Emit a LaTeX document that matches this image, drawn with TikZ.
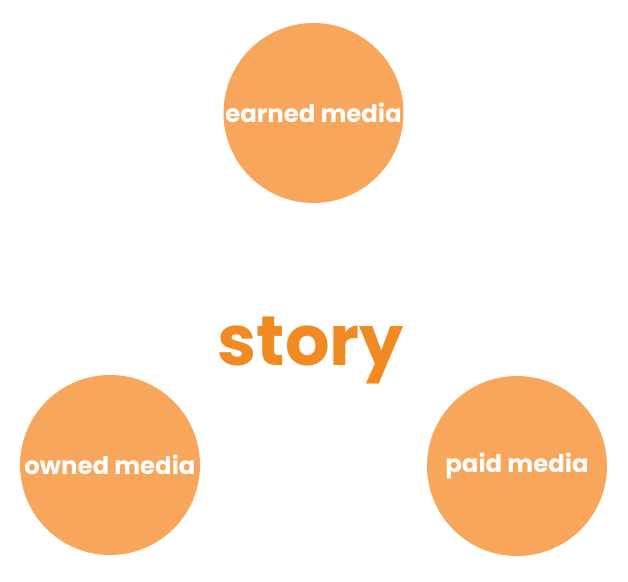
\documentclass[tikz,border=0pt]{standalone}
\usepackage{fontspec}
\setmainfont{Poppins}
\usetikzlibrary{positioning}
\definecolor{softorange}{rgb}{0.97, 0.65, 0.36}
\definecolor{storyorange}{rgb}{0.95, 0.54, 0.14}
\tikzset{
  medium/.style={circle, fill=softorange, minimum size=180pt, inner sep=0pt,
    text=white, font=\fontsize{24.4}{24}\bfseries\selectfont},
}
\begin{document}
\begin{tikzpicture}[x=1pt,y=-1pt]
      \useasboundingbox (0,0) rectangle (628,581);
      \coordinate (O) at (311,365);

      \node [anchor=base, text=storyorange, font=\fontsize{70}{70}\bfseries\selectfont] (story) at (O) {story};
      \foreach \name/\pos/\label in
      {
        earned/{(313.5,113)}/earned media,
        owned/{(110,465)}/owned media,
        paid/{(517,466)}/paid media
      }
      {
       \node [medium] (\name) at \pos {\label};
      }
    \end{tikzpicture}
\end{document}
